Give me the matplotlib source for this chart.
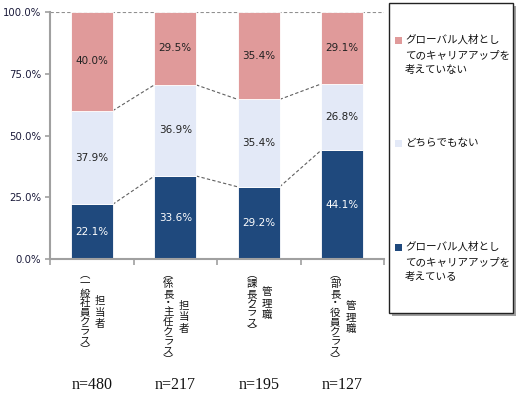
import matplotlib
matplotlib.use("Agg")
import matplotlib.pyplot as plt
from matplotlib.patches import Rectangle
import numpy as np

plt.rcParams['font.family'] = ['Noto Sans CJK JP', 'DejaVu Sans']

# data
roles = ["担当者", "担当者", "管理職", "管理職"]
grades = ["︵一般社員クラス︶", "︵係長・主任クラス︶", "︵課長クラス︶", "︵部長・役員クラス︶"]
n_counts = [480, 217, 195, 127]
considering = [22.1, 33.6, 29.2, 44.1]
neither = [37.9, 36.9, 35.4, 26.8]
not_considering = [40.0, 29.5, 35.4, 29.1]
yticks = [0, 25, 50, 75, 100]
legend_labels = [
    ["グローバル人材とし", "てのキャリアアップを", "考えていない"],
    ["どちらでもない"],
    ["グローバル人材とし", "てのキャリアアップを", "考えている"],
]

c_dark = "#1F497D"
c_light = "#E3E9F7"
c_pink = "#E09A9A"
W, H = 518, 395

fig = plt.figure(figsize=(W / 100, H / 100), dpi=100)
ax = fig.add_axes([50 / W, 1 - 259 / H, 334 / W, 247 / H])

x = np.arange(len(roles))
series = [(considering, c_dark, "white"), (neither, c_light, "#222222"), (not_considering, c_pink, "#222222")]
bottom = np.zeros(len(x))
levels = []
for vals, col, tcol in series:
    v = np.array(vals) / 100
    ax.bar(x, v, 0.5, bottom=bottom, color=col, edgecolor="white", linewidth=0.6, zorder=2)
    for i in range(len(x)):
        ax.text(x[i], bottom[i] + v[i] / 2, f"{vals[i]:.1f}%", ha="center", va="center",
                fontsize=7.5, family="DejaVu Sans", color=tcol, zorder=3)
    bottom = bottom + v
    levels.append(bottom.copy())

# series lines between bars
for lev in levels[:-1]:
    for i in range(len(x) - 1):
        ax.plot([x[i] + 0.25, x[i + 1] - 0.25], [lev[i], lev[i + 1]], ls="--", lw=0.8,
                color="#606060", dashes=(3, 2), zorder=1)
ax.axhline(1.0, ls="--", lw=0.8, color="#909090", dashes=(3, 2), zorder=1)

ax.set_xlim(-0.5, 3.5)
ax.set_ylim(0, 1.0)
ax.set_yticks([t / 100 for t in yticks])
ax.set_yticklabels([f"{t:.1f}%" for t in yticks], family="DejaVu Sans", fontsize=7.3, color="#1a1a3a")
ax.set_xticks(np.arange(-0.5, 4, 1))
ax.set_xticklabels([])
ax.tick_params(axis="y", length=3.5, width=1.2, color="#A0A0A0", pad=3)
ax.tick_params(axis="x", length=4, width=1.2, color="#A0A0A0")
for s in ["top", "right"]:
    ax.spines[s].set_visible(False)
for s in ["left", "bottom"]:
    ax.spines[s].set_color("#A0A0A0")
    ax.spines[s].set_linewidth(1.5)

# vertical category labels
px = 0.72
pitch = 9.4
trans = ax.get_xaxis_transform()
for i in range(len(x)):
    g = grades[i]
    for j, ch in enumerate(g):
        ax.annotate(ch, xy=(x[i], 0), xycoords=trans, xytext=(-7 * px, -(16 + j * pitch) * px),
                    textcoords="offset points", ha="center", va="center", fontsize=7.5, color="#111111")
    mid = 16 + (len(g) - 1) * pitch / 2
    r = roles[i]
    for j, ch in enumerate(r):
        yo = mid + (j - (len(r) - 1) / 2) * 11.5
        ax.annotate(ch, xy=(x[i], 0), xycoords=trans, xytext=(8.5 * px, -yo * px),
                    textcoords="offset points", ha="center", va="center", fontsize=7.5, color="#111111")
    ax.annotate(f"n={n_counts[i]}", xy=(x[i], 0), xycoords=trans, xytext=(0, -126 * px),
                textcoords="offset points", ha="center", va="center", fontsize=11.5,
                family="Liberation Serif", color="#111111")

# legend box
lx0, lx1, ly0, ly1 = 389, 513, 3, 313
fig.patches.append(Rectangle(((lx0 + 3) / W, 1 - (ly1 + 3) / H), (lx1 - lx0) / W, (ly1 - ly0) / H,
                             transform=fig.transFigure, facecolor="#A0A0A0", edgecolor="none", zorder=1))
fig.patches.append(Rectangle((lx0 / W, 1 - ly1 / H), (lx1 - lx0) / W, (ly1 - ly0) / H,
                             transform=fig.transFigure, facecolor="white", edgecolor="#222222",
                             linewidth=1.0, zorder=2))
legend_colors = [c_pink, c_light, c_dark]
legend_y = [40, 143, 247]
for lab, col, y0 in zip(legend_labels, legend_colors, legend_y):
    fig.patches.append(Rectangle((395 / W, 1 - (y0 + 3.5) / H), 7 / W, 7 / H,
                                 transform=fig.transFigure, facecolor=col, edgecolor="none", zorder=3))
    for k, line in enumerate(lab):
        fig.text(405 / W, 1 - (y0 + k * 15) / H, line, ha="left", va="center", fontsize=7.6,
                 color="#111111", zorder=4)

fig.savefig("out.png", dpi=100)
